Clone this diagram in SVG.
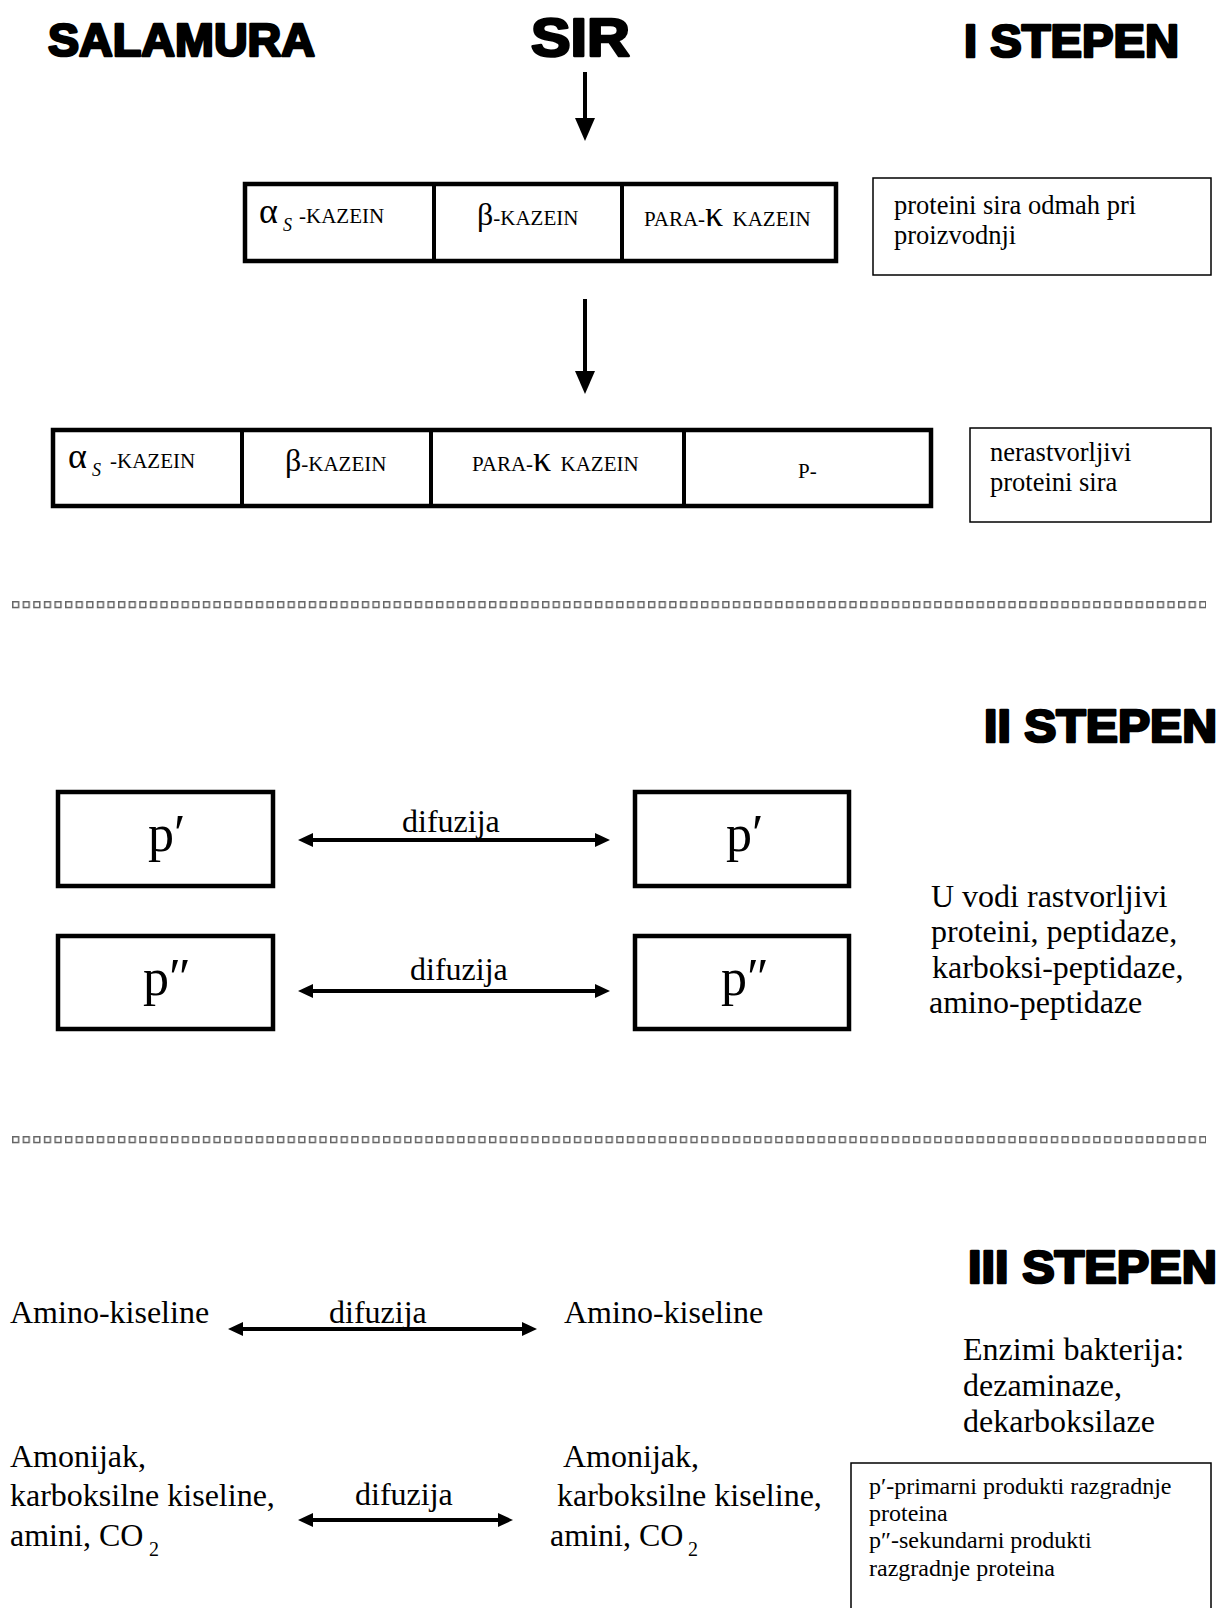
<svg xmlns="http://www.w3.org/2000/svg" width="1220" height="1608" viewBox="0 0 1220 1608">
<style>
.h{font-family:"Liberation Sans",Arial,sans-serif;font-weight:bold;fill:#000;stroke:#000;stroke-width:2.6;stroke-linejoin:round}
.t{font-family:"Liberation Serif","Times New Roman",serif;fill:#000}
.thick{fill:#fff;stroke:#000;stroke-width:4.5}
.thin{fill:#fff;stroke:#000;stroke-width:1.5}
.div{stroke:#000;stroke-width:4}
.ln{stroke:#000;stroke-width:4;fill:none}
</style>
<defs>
<marker id="down" viewBox="0 0 23 20" refX="0" refY="10" markerWidth="23" markerHeight="20" markerUnits="userSpaceOnUse" orient="auto"><path d="M0,0 L23,10 L0,20 z" fill="#000"/></marker>
<marker id="dh" viewBox="0 0 15 14" refX="0" refY="7" markerWidth="15" markerHeight="14" markerUnits="userSpaceOnUse" orient="auto-start-reverse"><path d="M0,0 L15,7 L0,14 z" fill="#000"/></marker>
<pattern id="sq" x="12" y="601" width="10.6" height="8" patternUnits="userSpaceOnUse"><rect x="0.75" y="0.75" width="5.8" height="5.8" fill="#fff" stroke="#666" stroke-width="1.5"/></pattern>
<pattern id="sq2" x="12" y="1136" width="10.6" height="8" patternUnits="userSpaceOnUse"><rect x="0.75" y="0.75" width="5.8" height="5.8" fill="#fff" stroke="#666" stroke-width="1.5"/></pattern>
</defs>
<rect width="1220" height="1608" fill="#fff"/>

<g id="headings">
<text class="h" x="48" y="56" font-size="46" textLength="267" lengthAdjust="spacingAndGlyphs">SALAMURA</text>
<text class="h" x="531" y="56" font-size="54" textLength="99" lengthAdjust="spacingAndGlyphs">SIR</text>
<text class="h" x="964" y="57" font-size="46" textLength="215" lengthAdjust="spacingAndGlyphs">I STEPEN</text>
<text class="h" x="984" y="742" font-size="46" textLength="233" lengthAdjust="spacingAndGlyphs">II STEPEN</text>
<text class="h" x="968" y="1283" font-size="46" textLength="249" lengthAdjust="spacingAndGlyphs">III STEPEN</text>
</g>

<g id="row1">
<rect class="thick" x="245" y="184" width="591" height="77"/>
<line class="div" x1="434" y1="184" x2="434" y2="261"/>
<line class="div" x1="622" y1="184" x2="622" y2="261"/>
<text class="t" x="259" y="222.5" font-size="36">α</text>
<text class="t" x="283" y="231" font-size="18" font-style="italic">S</text>
<text class="t" x="299" y="222.5" font-size="21">-KAZEIN</text>
<text class="t" x="477" y="224.5" font-size="21"><tspan font-size="32">β</tspan>-KAZEIN</text>
<text class="t" x="644" y="225.5" font-size="21">PARA-<tspan font-size="36">κ</tspan> <tspan dx="4">KAZEIN</tspan></text>
</g>

<g id="note1">
<rect class="thin" x="873" y="178" width="338" height="97"/>
<text class="t" x="894" y="214" font-size="26.5">proteini sira odmah pri</text>
<text class="t" x="894" y="244" font-size="26.5">proizvodnji</text>
</g>

<g id="row2">
<rect class="thick" x="53" y="430" width="878" height="76"/>
<line class="div" x1="242" y1="430" x2="242" y2="506"/>
<line class="div" x1="431" y1="430" x2="431" y2="506"/>
<line class="div" x1="684" y1="430" x2="684" y2="506"/>
<text class="t" x="68" y="468" font-size="36">α</text>
<text class="t" x="92" y="476" font-size="18" font-style="italic">S</text>
<text class="t" x="110" y="467.5" font-size="21">-KAZEIN</text>
<text class="t" x="285" y="470.5" font-size="21"><tspan font-size="32">β</tspan>-KAZEIN</text>
<text class="t" x="472" y="470.5" font-size="21">PARA-<tspan font-size="36">κ</tspan> <tspan dx="4">KAZEIN</tspan></text>
<text class="t" x="798" y="478" font-size="21">P-</text>
</g>

<g id="note2">
<rect class="thin" x="970" y="428" width="241" height="94"/>
<text class="t" x="990" y="461" font-size="26.5">nerastvorljivi</text>
<text class="t" x="990" y="491" font-size="26.5">proteini sira</text>
</g>

<g id="sep1"><rect x="12" y="601" width="1194" height="8" fill="url(#sq)"/></g>
<g id="sep2"><rect x="12" y="1136" width="1194" height="8" fill="url(#sq2)"/></g>

<g id="p1-left"><rect class="thick" x="58" y="792" width="215" height="94"/><text class="t" x="148" y="851" font-size="52">p′</text></g>
<g id="p1-right"><rect class="thick" x="635" y="792" width="214" height="94"/><text class="t" x="726" y="851" font-size="52">p′</text></g>
<g id="p2-left"><rect class="thick" x="58" y="936" width="215" height="93"/><text class="t" x="143" y="995" font-size="52">p″</text></g>
<g id="p2-right"><rect class="thick" x="635" y="936" width="214" height="93"/><text class="t" x="721" y="995" font-size="52">p″</text></g>

<g id="enz2">
<text class="t" x="931" y="907" font-size="32">U vodi rastvorljivi</text>
<text class="t" x="931" y="942" font-size="32">proteini, peptidaze,</text>
<text class="t" x="932" y="978" font-size="32">karboksi-peptidaze,</text>
<text class="t" x="929" y="1013" font-size="32">amino-peptidaze</text>
</g>

<g id="aa-left"><text class="t" x="10" y="1323" font-size="32">Amino-kiseline</text></g>
<g id="aa-right"><text class="t" x="564" y="1323" font-size="32">Amino-kiseline</text></g>

<g id="enz3">
<text class="t" x="963" y="1360" font-size="32">Enzimi bakterija:</text>
<text class="t" x="963" y="1396" font-size="32">dezaminaze,</text>
<text class="t" x="963" y="1432" font-size="32">dekarboksilaze</text>
</g>

<g id="prod-left">
<text class="t" x="10" y="1467" font-size="32">Amonijak,</text>
<text class="t" x="10" y="1506" font-size="32">karboksilne kiseline,</text>
<text class="t" x="10" y="1546" font-size="32">amini, CO<tspan x="149" y="1556" font-size="20">2</tspan></text>
</g>
<g id="prod-right">
<text class="t" x="563" y="1467" font-size="32">Amonijak,</text>
<text class="t" x="557" y="1506" font-size="32">karboksilne kiseline,</text>
<text class="t" x="550" y="1546" font-size="32">amini, CO<tspan x="688" y="1556" font-size="20">2</tspan></text>
</g>

<g id="legend">
<rect class="thin" x="851" y="1463" width="360" height="170"/>
<text class="t" x="869" y="1494" font-size="24">p′-primarni produkti razgradnje</text>
<text class="t" x="869" y="1521" font-size="24">proteina</text>
<text class="t" x="869" y="1548" font-size="24">p″-sekundarni produkti</text>
<text class="t" x="869" y="1576" font-size="24">razgradnje proteina</text>
</g>

<g id="connectors">
<line class="ln" x1="585" y1="72" x2="585" y2="118" marker-end="url(#down)"/>
<line class="ln" x1="585" y1="299" x2="585" y2="371" marker-end="url(#down)"/>
<line class="ln" x1="313" y1="840" x2="595" y2="840" marker-start="url(#dh)" marker-end="url(#dh)"/>
<text class="t" x="402" y="832" font-size="32">difuzija</text>
<line class="ln" x1="313" y1="991" x2="595" y2="991" marker-start="url(#dh)" marker-end="url(#dh)"/>
<text class="t" x="410" y="980" font-size="32">difuzija</text>
<line class="ln" x1="243" y1="1329" x2="522" y2="1329" marker-start="url(#dh)" marker-end="url(#dh)"/>
<text class="t" x="329" y="1323" font-size="32">difuzija</text>
<line class="ln" x1="313" y1="1520" x2="498" y2="1520" marker-start="url(#dh)" marker-end="url(#dh)"/>
<text class="t" x="355" y="1505" font-size="32">difuzija</text>
</g>
</svg>
